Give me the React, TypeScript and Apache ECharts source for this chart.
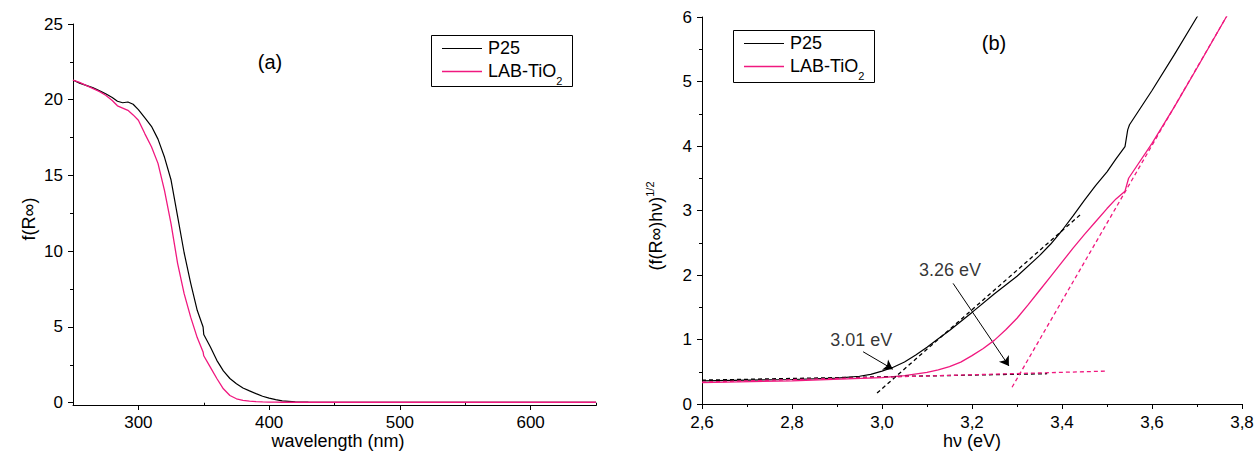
import React, { useEffect, useRef } from "react";
import * as echarts from "echarts";

// ---------- (a) diffuse reflectance, Kubelka-Munk ----------
const wavelength = [250, 255, 260, 265, 270, 275, 280, 284, 288, 292, 296, 300, 305, 310, 315, 320, 325, 330, 335, 340, 345, 349.5, 350, 355, 360, 365, 370, 375, 380, 385, 390, 395, 400, 405, 410, 420, 430, 450, 500, 550, 600, 650];
const p25Reflect = [21.3, 21.1, 20.95, 20.8, 20.6, 20.4, 20.15, 19.9, 19.8, 19.85, 19.7, 19.35, 18.8, 18.25, 17.4, 16.2, 14.7, 12.3, 9.9, 7.9, 6.1, 5.0, 4.5, 3.7, 2.8, 2.1, 1.6, 1.25, 0.97, 0.78, 0.6, 0.43, 0.3, 0.2, 0.12, 0.06, 0.04, 0.03, 0.02, 0.02, 0.02, 0.02];
const labReflect = [21.3, 21.15, 20.95, 20.75, 20.55, 20.3, 19.95, 19.6, 19.45, 19.3, 19.0, 18.65, 17.75, 16.9, 15.8, 14.0, 11.8, 9.2, 7.2, 5.65, 4.3, 3.35, 3.1, 2.35, 1.6, 0.92, 0.48, 0.26, 0.15, 0.1, 0.07, 0.05, 0.04, 0.04, 0.03, 0.03, 0.03, 0.03, 0.03, 0.03, 0.03, 0.03];
const leftXLabels = [300, 400, 500, 600];
const leftXMinor = [350, 450, 550, 650];
const leftYLabels = [0, 5, 10, 15, 20, 25];
const leftYMinor = [2.5, 7.5, 12.5, 17.5, 22.5];

// ---------- (b) Tauc plot ----------
const energyP25 = [2.6, 2.7, 2.8, 2.9, 2.95, 2.975, 3.0, 3.025, 3.05, 3.075, 3.1, 3.125, 3.15, 3.175, 3.2, 3.25, 3.3, 3.35, 3.375, 3.4, 3.425, 3.45, 3.475, 3.5, 3.52, 3.54, 3.546, 3.55, 3.6, 3.65, 3.7, 3.72];
const p25Tauc = [0.36, 0.37, 0.38, 0.4, 0.43, 0.46, 0.51, 0.57, 0.65, 0.76, 0.88, 1.01, 1.14, 1.28, 1.42, 1.71, 1.98, 2.3, 2.48, 2.69, 2.92, 3.16, 3.39, 3.6, 3.8, 3.99, 4.25, 4.33, 4.86, 5.42, 6.0, 6.25];
const energyLab = [2.6, 2.8, 3.0, 3.05, 3.1, 3.125, 3.15, 3.175, 3.2, 3.225, 3.25, 3.275, 3.3, 3.325, 3.35, 3.375, 3.4, 3.425, 3.45, 3.475, 3.5, 3.52, 3.54, 3.548, 3.6, 3.65, 3.7, 3.765, 3.78];
const labTauc = [0.33, 0.36, 0.41, 0.44, 0.49, 0.53, 0.58, 0.65, 0.75, 0.86, 0.99, 1.15, 1.33, 1.54, 1.76, 1.98, 2.2, 2.42, 2.63, 2.83, 3.03, 3.18, 3.3, 3.5, 4.04, 4.61, 5.21, 6.0, 6.17];
const p25BaseFit = [[2.6, 0.37], [3.367, 0.47]];
const p25EdgeFit = [[2.989, 0.17], [3.44, 2.93]];
const labBaseFit = [[2.6, 0.34], [3.5, 0.51]];
const labEdgeFit = [[3.289, 0.26], [3.765, 6.0]];
const gapLabels = ["3.01 eV", "3.26 eV"];
const gapLabelAt = [[2.954, 1.0], [3.151, 2.08]];
const gapArrows = [
  [[2.958, 0.81], [3.024, 0.54]],
  [[3.158, 1.87], [3.282, 0.59]],
];

const FONT = "'Liberation Sans', Arial, sans-serif";
const PINK = "#f0187f";
const BLACK = "#000000";

function legendGroup(x: number, y: number, w: number, h: number) {
  return {
    type: "group",
    children: [
      { type: "rect", shape: { x: x + 0.5, y: y + 0.5, width: w, height: h }, style: { fill: "#fff", stroke: "#000", lineWidth: 1 }, z: 100 },
      { type: "line", shape: { x1: x + 11, y1: y + 13.5, x2: x + 51, y2: y + 13.5 }, style: { stroke: BLACK, lineWidth: 1.2 }, z: 101 },
      { type: "line", shape: { x1: x + 11, y1: y + 36.5, x2: x + 51, y2: y + 36.5 }, style: { stroke: PINK, lineWidth: 1.5 }, z: 101 },
      { type: "text", x: x + 57, y: y + 13, z: 101, style: { text: "P25", fontSize: 18, fontFamily: FONT, fill: "#000", align: "left", verticalAlign: "middle" } },
      {
        type: "text", x: x + 57, y: y + 36, z: 101,
        style: {
          text: "{m|LAB-TiO}{s|2}", align: "left", verticalAlign: "middle", fill: "#000",
          rich: {
            m: { fontSize: 18, fontFamily: FONT, lineHeight: 30, verticalAlign: "middle" },
            s: { fontSize: 11, fontFamily: FONT, lineHeight: 11, verticalAlign: "bottom" },
          },
        },
      },
    ],
  };
}

export default function App() {
  const ref = useRef<HTMLDivElement>(null);
  useEffect(() => {
    document.body.style.margin = "0";
    if (!ref.current) return;
    const chart = echarts.init(ref.current, undefined, { renderer: "svg" });
    const axisLine = { show: true, onZero: false, lineStyle: { color: "#000", width: 1 } };
    const labelStyle = { color: "#000", fontSize: 17, fontFamily: FONT };
    const dashed = (data: number[][], color: string) => ({
      type: "line", xAxisIndex: 2, yAxisIndex: 2, data, showSymbol: false, symbol: "none",
      lineStyle: { color, width: 1.3, type: [4, 3] }, silent: true,
    });
    const curve = (name: string, xi: number, data: number[][], color: string, width: number) => ({
      name, type: "line", xAxisIndex: xi, yAxisIndex: xi, showSymbol: false, symbol: "none",
      data, lineStyle: { color, width },
    });
    chart.setOption({
      animation: false,
      grid: [
        { left: 73, top: 24, width: 523, height: 381 },
        { left: 702, top: 17, width: 540, height: 387 },
      ],
      xAxis: [
        {
          type: "value", gridIndex: 0, min: 250, max: 650, position: "bottom",
          axisLine, splitLine: { show: false },
          axisTick: { show: true, length: 5, customValues: leftXLabels, lineStyle: { color: "#000" } },
          axisLabel: { ...labelStyle, margin: 9, customValues: leftXLabels },
        },
        {
          type: "value", gridIndex: 0, min: 250, max: 650, position: "bottom",
          axisLine: { show: false }, splitLine: { show: false },
          axisTick: { show: true, length: 3, customValues: leftXMinor, lineStyle: { color: "#000" } },
          axisLabel: { show: false },
        },
        {
          type: "value", gridIndex: 1, min: 2.6, max: 3.8, interval: 0.2, position: "bottom",
          axisLine, splitLine: { show: false },
          axisTick: { show: true, length: 5, lineStyle: { color: "#000" } },
          minorTick: { show: true, splitNumber: 2, length: 3, lineStyle: { color: "#000" } },
          axisLabel: { ...labelStyle, margin: 10, formatter: (v: number) => v.toFixed(1).replace(".", ",") },
        },
      ],
      yAxis: [
        {
          type: "value", gridIndex: 0, min: -0.15, max: 25, position: "left",
          axisLine, splitLine: { show: false },
          axisTick: { show: true, length: 5, customValues: leftYLabels, lineStyle: { color: "#000" } },
          axisLabel: { ...labelStyle, margin: 10, customValues: leftYLabels },
        },
        {
          type: "value", gridIndex: 0, min: -0.15, max: 25, position: "left",
          axisLine: { show: false }, splitLine: { show: false },
          axisTick: { show: true, length: 3, customValues: leftYMinor, lineStyle: { color: "#000" } },
          axisLabel: { show: false },
        },
        {
          type: "value", gridIndex: 1, min: 0, max: 6, interval: 1, position: "left",
          axisLine, splitLine: { show: false },
          axisTick: { show: true, length: 5, lineStyle: { color: "#000" } },
          minorTick: { show: true, splitNumber: 2, length: 3, lineStyle: { color: "#000" } },
          axisLabel: { ...labelStyle, margin: 10 },
        },
      ],
      series: [
        curve("P25", 0, wavelength.map((w, i) => [w, p25Reflect[i]]), BLACK, 1.2),
        curve("LAB-TiO2", 0, wavelength.map((w, i) => [w, labReflect[i]]), PINK, 1.3),
        curve("P25 Tauc", 2, energyP25.map((e, i) => [e, p25Tauc[i]]), BLACK, 1.2),
        curve("LAB Tauc", 2, energyLab.map((e, i) => [e, labTauc[i]]), PINK, 1.3),
        dashed(p25BaseFit, BLACK),
        dashed(p25EdgeFit, BLACK),
        dashed(labBaseFit, PINK),
        dashed(labEdgeFit, PINK),
        {
          type: "lines", coordinateSystem: "cartesian2d", xAxisIndex: 2, yAxisIndex: 2,
          symbol: ["none", "arrow"], symbolSize: 9,
          lineStyle: { color: "#000", width: 1, opacity: 1, curveness: 0 },
          data: gapArrows.map((a) => ({ coords: a })),
          silent: true,
        },
        {
          type: "scatter", xAxisIndex: 2, yAxisIndex: 2, symbolSize: 1,
          itemStyle: { color: "rgba(0,0,0,0)" },
          data: gapLabelAt.map((p, i) => ({ value: p, name: gapLabels[i] })),
          label: { show: true, position: "inside", formatter: "{b}", color: "#000", textBorderWidth: 0, fontSize: 18, fontFamily: FONT },
          silent: true,
        },
      ],
      graphic: [
        { type: "text", x: 270, y: 62, style: { text: "(a)", fontSize: 20, fontFamily: FONT, fill: "#000", align: "center", verticalAlign: "middle" } },
        { type: "text", x: 994, y: 43, style: { text: "(b)", fontSize: 20, fontFamily: FONT, fill: "#000", align: "center", verticalAlign: "middle" } },
        { type: "text", x: 338, y: 441, style: { text: "wavelength (nm)", fontSize: 18, fontFamily: FONT, fill: "#000", align: "center", verticalAlign: "middle" } },
        { type: "text", x: 972, y: 441, style: { text: "hν (eV)", fontSize: 18, fontFamily: FONT, fill: "#000", align: "center", verticalAlign: "middle" } },
        { type: "text", x: 29, y: 219, rotation: Math.PI / 2, style: { text: "f(R∞)", fontSize: 18, fontFamily: FONT, fill: "#000", align: "center", verticalAlign: "middle" } },
        {
          type: "text", x: 656, y: 226, rotation: Math.PI / 2,
          style: {
            text: "{m|(f(R∞)hν)}{s|1/2}", align: "center", verticalAlign: "middle", fill: "#000",
            rich: {
              m: { fontSize: 18, fontFamily: FONT, lineHeight: 24, verticalAlign: "middle" },
              s: { fontSize: 11, fontFamily: FONT, lineHeight: 11, verticalAlign: "top" },
            },
          },
        },
        legendGroup(431, 35, 141, 51),
        legendGroup(733, 30, 141, 52),
      ],
    });
    return () => chart.dispose();
  }, []);
  return <div ref={ref} style={{ width: 1258, height: 457 }} />;
}
